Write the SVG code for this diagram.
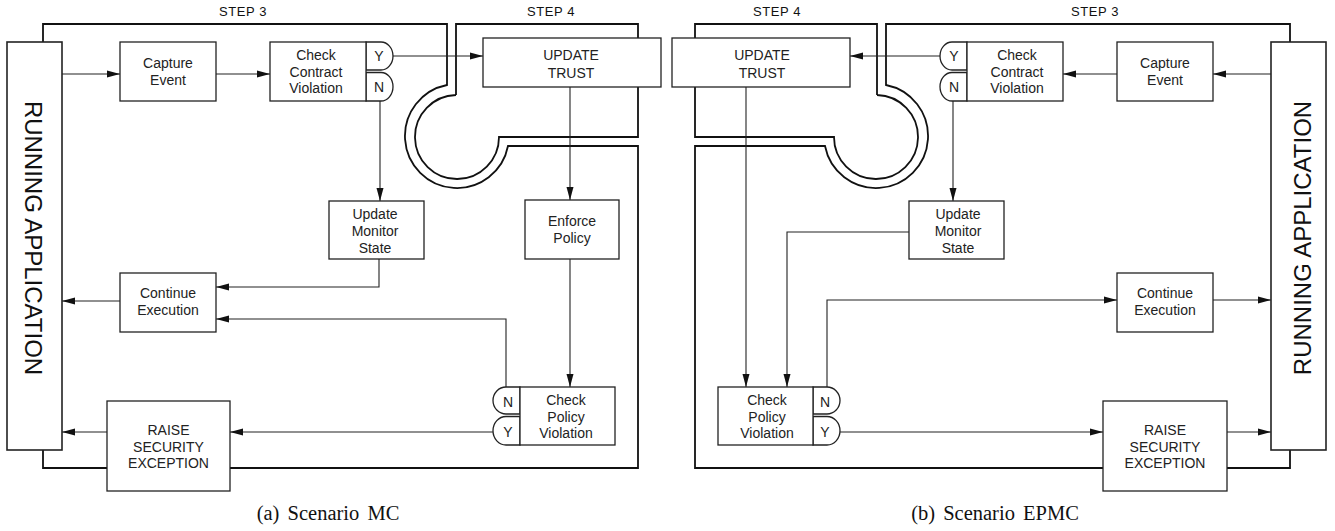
<svg xmlns="http://www.w3.org/2000/svg" width="1335" height="531" viewBox="0 0 1335 531">
<style>
.frame{fill:none;stroke:#111;stroke-width:1.8}
.box{fill:#fff;stroke:#222;stroke-width:1.3}
.conn{fill:none;stroke:#222;stroke-width:1.1}
.lbl{font-family:"Liberation Sans",Arial,Helvetica,sans-serif;font-size:14px;text-anchor:middle;fill:#222}
.step{font-family:"Liberation Sans",Arial,Helvetica,sans-serif;font-size:13px;letter-spacing:0.6px;text-anchor:middle;fill:#111}
.ra{font-family:"Liberation Sans",Arial,Helvetica,sans-serif;font-size:24px;text-anchor:middle;fill:#111}
.cap{font-family:"Liberation Serif","Times New Roman",serif;font-size:20.5px;word-spacing:3px;text-anchor:middle;fill:#111}
</style>
<defs>
<marker id="ah" markerWidth="13" markerHeight="8" refX="13" refY="4" orient="auto" markerUnits="userSpaceOnUse"><path d="M0,0.5 L13,4 L0,7.5 z" fill="#111"/></marker>
</defs>
<rect width="1335" height="531" fill="#fff"/>

<g id="frames">
<path class="frame" d="M43,42 V24 H447 V85 A52,52 0 1 0 508,146 H638 V468 H43 V450"/>
<path class="frame" d="M456,95 V24 H638 V137 H499 A42,42 0 1 1 456,95"/>
<path class="frame" d="M1290,42 V24 H886 V85 A52,52 0 1 1 825,146 H695 V468 H1290 V450"/>
<path class="frame" d="M877,95 V24 H695 V137 H834 A42,42 0 1 0 877,95"/>
<text class="step" x="243" y="16">STEP 3</text>
<text class="step" x="551" y="16">STEP 4</text>
<text class="step" x="777" y="16">STEP 4</text>
<text class="step" x="1095" y="16">STEP 3</text>
</g>

<g id="connectors">
<path class="conn" d="M62,74 H120" marker-end="url(#ah)"/>
<path class="conn" d="M216,74 H270" marker-end="url(#ah)"/>
<path class="conn" d="M393,56 H483" marker-end="url(#ah)"/>
<path class="conn" d="M380,101 V201" marker-end="url(#ah)"/>
<path class="conn" d="M379,259 V287 H216" marker-end="url(#ah)"/>
<path class="conn" d="M120,301 H62" marker-end="url(#ah)"/>
<path class="conn" d="M570,87 V200" marker-end="url(#ah)"/>
<path class="conn" d="M570,259 V387" marker-end="url(#ah)"/>
<path class="conn" d="M506,387 V319 H216" marker-end="url(#ah)"/>
<path class="conn" d="M493,432 H230" marker-end="url(#ah)"/>
<path class="conn" d="M107,432 H62" marker-end="url(#ah)"/>

<path class="conn" d="M1271,74 H1213" marker-end="url(#ah)"/>
<path class="conn" d="M1117,74 H1063" marker-end="url(#ah)"/>
<path class="conn" d="M940,56 H850" marker-end="url(#ah)"/>
<path class="conn" d="M953,101 V201" marker-end="url(#ah)"/>
<path class="conn" d="M909,232 H787 V387" marker-end="url(#ah)"/>
<path class="conn" d="M746,87 V387" marker-end="url(#ah)"/>
<path class="conn" d="M827,387 V300 H1117" marker-end="url(#ah)"/>
<path class="conn" d="M1213,300 H1271" marker-end="url(#ah)"/>
<path class="conn" d="M840,432 H1103" marker-end="url(#ah)"/>
<path class="conn" d="M1227,432 H1271" marker-end="url(#ah)"/>
</g>

<!-- Left panel (a) -->
<g id="ra-a">
<rect class="box" x="7" y="42" width="55" height="408" style="stroke-width:1.6"/>
<text class="ra" transform="translate(25,238) rotate(90)">RUNNING APPLICATION</text>
</g>
<g id="capture-a">
<rect class="box" x="120" y="42" width="96" height="59"/>
<text class="lbl"><tspan x="168" y="68">Capture</tspan><tspan x="168" y="85">Event</tspan></text>
</g>
<g id="ccv-a">
<path class="box" d="M366,42 H381 A12,14 0 0 1 381,70 H366 Z"/>
<path class="box" d="M366,72.5 H381 A12,14.25 0 0 1 381,101 H366 Z"/>
<rect class="box" x="270" y="42" width="96" height="59"/>
<text class="lbl"><tspan x="316" y="60">Check</tspan><tspan x="316" y="76.5">Contract</tspan><tspan x="316" y="93">Violation</tspan></text>
<text class="lbl" x="379" y="61">Y</text>
<text class="lbl" x="379" y="92">N</text>
</g>
<g id="ut-a">
<rect class="box" x="483" y="38" width="178" height="49"/>
<text class="lbl"><tspan x="571" y="60">UPDATE</tspan><tspan x="571" y="78">TRUST</tspan></text>
</g>
<g id="ums-a">
<rect class="box" x="329" y="201" width="95" height="58"/>
<text class="lbl"><tspan x="375" y="219">Update</tspan><tspan x="375" y="236">Monitor</tspan><tspan x="375" y="252.5">State</tspan></text>
</g>
<g id="ep-a">
<rect class="box" x="525" y="200" width="94" height="59"/>
<text class="lbl"><tspan x="572" y="226">Enforce</tspan><tspan x="572" y="243">Policy</tspan></text>
</g>
<g id="ce-a">
<rect class="box" x="120" y="273" width="96" height="59"/>
<text class="lbl"><tspan x="168" y="298">Continue</tspan><tspan x="168" y="315">Execution</tspan></text>
</g>
<g id="cpv-a">
<path class="box" d="M520,387 H506 A13,13.5 0 0 0 506,414 H520 Z"/>
<path class="box" d="M520,416.5 H506 A13,14.25 0 0 0 506,445 H520 Z"/>
<rect class="box" x="520" y="387" width="95" height="58"/>
<text class="lbl"><tspan x="566" y="405">Check</tspan><tspan x="566" y="422">Policy</tspan><tspan x="566" y="438">Violation</tspan></text>
<text class="lbl" x="508" y="407">N</text>
<text class="lbl" x="508" y="437">Y</text>
</g>
<g id="rse-a">
<rect class="box" x="107" y="401" width="123" height="90"/>
<text class="lbl"><tspan x="168.5" y="435">RAISE</tspan><tspan x="168.5" y="452">SECURITY</tspan><tspan x="168.5" y="468">EXCEPTION</tspan></text>
</g>
<text class="cap" x="328" y="520">(a) Scenario MC</text>

<!-- Right panel (b) -->
<g id="ra-b">
<rect class="box" x="1271" y="42" width="55" height="408" style="stroke-width:1.6"/>
<text class="ra" transform="translate(1311,238) rotate(-90)">RUNNING APPLICATION</text>
</g>
<g id="capture-b">
<rect class="box" x="1117" y="42" width="96" height="59"/>
<text class="lbl"><tspan x="1165" y="68">Capture</tspan><tspan x="1165" y="85">Event</tspan></text>
</g>
<g id="ccv-b">
<path class="box" d="M967,42 H952 A12,14 0 0 0 952,70 H967 Z"/>
<path class="box" d="M967,72.5 H952 A12,14.25 0 0 0 952,101 H967 Z"/>
<rect class="box" x="967" y="42" width="96" height="59"/>
<text class="lbl"><tspan x="1017" y="60">Check</tspan><tspan x="1017" y="76.5">Contract</tspan><tspan x="1017" y="93">Violation</tspan></text>
<text class="lbl" x="954" y="61">Y</text>
<text class="lbl" x="954" y="92">N</text>
</g>
<g id="ut-b">
<rect class="box" x="672" y="38" width="178" height="49"/>
<text class="lbl"><tspan x="762" y="60">UPDATE</tspan><tspan x="762" y="78">TRUST</tspan></text>
</g>
<g id="ums-b">
<rect class="box" x="909" y="201" width="95" height="58"/>
<text class="lbl"><tspan x="958" y="219">Update</tspan><tspan x="958" y="236">Monitor</tspan><tspan x="958" y="252.5">State</tspan></text>
</g>
<g id="ce-b">
<rect class="box" x="1117" y="273" width="96" height="59"/>
<text class="lbl"><tspan x="1165" y="298">Continue</tspan><tspan x="1165" y="315">Execution</tspan></text>
</g>
<g id="cpv-b">
<path class="box" d="M813,387 H827 A13,13.5 0 0 1 827,414 H813 Z"/>
<path class="box" d="M813,416.5 H827 A13,14.25 0 0 1 827,445 H813 Z"/>
<rect class="box" x="718" y="387" width="95" height="58"/>
<text class="lbl"><tspan x="767" y="405">Check</tspan><tspan x="767" y="422">Policy</tspan><tspan x="767" y="438">Violation</tspan></text>
<text class="lbl" x="825" y="407">N</text>
<text class="lbl" x="825" y="437">Y</text>
</g>
<g id="rse-b">
<rect class="box" x="1103" y="401" width="124" height="90"/>
<text class="lbl"><tspan x="1165" y="435">RAISE</tspan><tspan x="1165" y="452">SECURITY</tspan><tspan x="1165" y="468">EXCEPTION</tspan></text>
</g>
<text class="cap" x="995" y="520">(b) Scenario EPMC</text>
</svg>
